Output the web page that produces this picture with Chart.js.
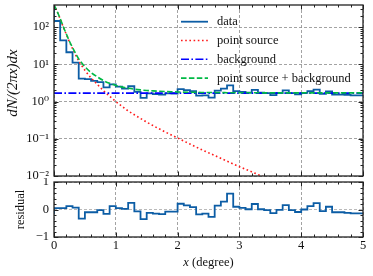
<!DOCTYPE html>
<html>
<head>
<meta charset="utf-8">
<script src="https://cdn.jsdelivr.net/npm/chart.js@4.4.1/dist/chart.umd.min.js"></script>
<style>
  html, body { margin: 0; padding: 0; background: #fff; }
  #wrap { position: relative; width: 373px; height: 276px; }
  #top { position: absolute; left: 0; top: 0; }
  #res { position: absolute; left: 0; top: 178px; }
</style>
</head>
<body>
<div id="wrap">
  <canvas id="top" width="373" height="180"></canvas>
  <canvas id="res" width="373" height="98"></canvas>
</div>
<script>
// histogram bins of width 0.1 degree, from 0 to 5
const BIN = 0.1;
const counts = [350, 145, 44, 21, 11, 4.1, 4.0, 3.6, 3.3, 2.4,
                2.9, 2.5, 2.22, 2.57, 1.81, 1.25, 1.66, 1.57, 1.53, 1.65,
                1.64, 2.15, 2.03, 1.9, 1.43, 1.46, 1.27, 1.95, 2.22, 2.72,
                1.89, 1.82, 1.73, 2.05, 1.73, 1.67, 1.49, 1.69, 1.98, 1.67,
                1.55, 1.7, 1.91, 2.09, 1.6, 1.87, 1.53, 1.53, 1.5, 1.46];
const residuals = [-0.15, 0.05, 0.05, 0.12, 0.07, -0.33, -0.1, -0.1, -0.02, -0.16,
                   0.12, 0.05, 0.02, 0.24, -0.07, -0.35, -0.12, -0.15, -0.17, -0.08,
                   -0.08, 0.21, 0.15, 0.09, -0.18, -0.15, -0.27, 0.14, 0.29, 0.58,
                   0.1, 0.06, 0.01, 0.2, 0.01, -0.02, -0.13, -0.01, 0.16, -0.02,
                   -0.09, 0, 0.12, 0.23, -0.06, 0.1, -0.1, -0.1, -0.12, -0.14];

// point source profile
const psX = [0, 0.05, 0.1, 0.15, 0.2, 0.25, 0.3, 0.35, 0.4, 0.45, 0.5, 0.6, 0.7, 0.8, 0.9,
             1.0, 1.1, 1.2, 1.3, 1.4, 1.5, 1.6, 1.7, 1.8, 1.9, 2.0, 2.2, 2.4, 2.6, 2.8,
             3.0, 3.2, 3.4, 3.6];
const psY = [398, 263, 166, 100, 63, 39.8, 26.3, 17.8, 12.3, 9.1, 6.9, 4.3, 2.9, 1.95, 1.38,
             1.0, 0.74, 0.56, 0.44, 0.35, 0.28, 0.226, 0.185, 0.152, 0.126, 0.105, 0.072, 0.05, 0.0355, 0.025,
             0.0178, 0.0129, 0.0093, 0.0068];

// point source + background
const modX = [0, 0.05, 0.1, 0.15, 0.2, 0.25, 0.3, 0.35, 0.4, 0.45, 0.5, 0.6, 0.7, 0.8, 0.9,
              1.0, 1.1, 1.2, 1.3, 1.4, 1.5, 1.6, 1.7, 1.8, 1.9, 2.0, 2.2, 2.4, 2.6, 2.8,
              3.0, 3.5, 4.0, 4.5, 5.0];
const modY = [400, 265, 168, 102, 64.7, 41.5, 28, 19.5, 14, 10.8, 8.6, 6.0, 4.6, 3.65, 3.08,
              2.7, 2.44, 2.26, 2.14, 2.05, 1.98, 1.926, 1.885, 1.852, 1.826, 1.805, 1.772, 1.75, 1.736, 1.725,
              1.718, 1.708, 1.704, 1.702, 1.701];

const bkgX = [0, 5];
const bkgY = [1.68, 1.68];

const xTicks = [0, 1, 2, 3, 4, 5];
const yTopTicks = [0.01, 0.1, 1, 10, 100];
const yTopLabels = ['10\u207B\u00B2', '10\u207B\u00B9', '10\u2070', '10\u00B9', '10\u00B2'];
const resTicks = [-1, 0, 1];
const resLabels = ['\u22121', '0', '1'];

const SERIF = '"Liberation Serif", "DejaVu Serif", serif';
const GRID = '#8c8c8c';
const INK = '#222';

function zip(xs, ys) {
  return xs.map((x, i) => ({x: x, y: ys[i]}));
}

// points for a stepped line: left edge of each bin, plus the right edge of the last one
function stepPoints(vals) {
  let pts = vals.map((v, i) => ({x: +(i * BIN).toFixed(2), y: v}));
  pts.push({x: +(vals.length * BIN).toFixed(2), y: vals[vals.length - 1]});
  return pts;
}

// labels may overhang the plot edges, don't let them shrink the plot
function noOverhang(s) {
  s.paddingTop = 0;
  s.paddingBottom = 0;
  s.paddingLeft = 0;
  s.paddingRight = 0;
}

let xMinor = [];
for (let i = 1; i < 25; i++) if (i % 5 != 0) xMinor.push(i * 0.2);
let logMinor = [];
for (let k = -2; k <= 2; k++)
  for (let m = 2; m <= 9; m++)
    if (m * Math.pow(10, k) < 390) logMinor.push(m * Math.pow(10, k));
let resMinor = [-0.8, -0.6, -0.4, -0.2, 0.2, 0.4, 0.6, 0.8];

// matplotlib-like frame with inward ticks on all four sides, plus the axis titles
const frameTicks = {
  id: 'frameTicks',
  afterDraw(chart, args, opts) {
    const {ctx, chartArea: a, scales} = chart;
    const sx = scales.x, sy = scales.y;
    ctx.save();
    ctx.strokeStyle = INK;
    ctx.lineWidth = 1;
    ctx.beginPath();
    const xt = (list, len) => list.forEach(v => {
      const p = Math.round(sx.getPixelForValue(v)) + 0.5;
      ctx.moveTo(p, a.top); ctx.lineTo(p, a.top + len);
      ctx.moveTo(p, a.bottom); ctx.lineTo(p, a.bottom - len);
    });
    const yt = (list, len) => list.forEach(v => {
      const p = Math.round(sy.getPixelForValue(v)) + 0.5;
      ctx.moveTo(a.left, p); ctx.lineTo(a.left + len, p);
      ctx.moveTo(a.right, p); ctx.lineTo(a.right - len, p);
    });
    xt(opts.xMajor, 4.5);
    xt(opts.xMinor, 2.5);
    yt(opts.yMajor, 4.5);
    yt(opts.yMinor, 2.5);
    ctx.stroke();
    ctx.lineWidth = 1.3;
    ctx.strokeRect(a.left, a.top, a.right - a.left, a.bottom - a.top);

    ctx.fillStyle = '#111';
    ctx.textBaseline = 'middle';
    // x title: italic x, upright unit
    if (opts.xTitle) {
      const t = opts.xTitle;
      ctx.font = 'italic ' + t.size + 'px ' + SERIF;
      const w1 = ctx.measureText('x').width;
      ctx.font = t.size + 'px ' + SERIF;
      const w2 = ctx.measureText(' (degree)').width;
      const x0 = (a.left + a.right) / 2 - (w1 + w2) / 2;
      ctx.textAlign = 'left';
      ctx.font = 'italic ' + t.size + 'px ' + SERIF;
      ctx.fillText('x', x0, t.y);
      ctx.font = t.size + 'px ' + SERIF;
      ctx.fillText(' (degree)', x0 + w1, t.y);
    }
    // rotated y title, centred a little above the middle like the original
    if (opts.yTitle) {
      ctx.translate(opts.yTitle.x, opts.yTitle.y);
      ctx.rotate(-Math.PI / 2);
      ctx.font = opts.yTitle.font;
      ctx.textAlign = 'center';
      ctx.fillText(opts.yTitle.text, 0, 0);
    }
    ctx.restore();
  }
};

// legend drawn inside the plot, with line samples
const lineLegend = {
  id: 'lineLegend',
  afterDatasetsDraw(chart, args, opts) {
    const ctx = chart.ctx;
    ctx.save();
    ctx.font = '12.5px ' + SERIF;
    ctx.textBaseline = 'middle';
    ctx.fillStyle = '#111';
    chart.data.datasets.forEach((ds, i) => {
      const y = opts.top + i * opts.rowHeight;
      ctx.strokeStyle = ds.borderColor;
      ctx.lineWidth = ds.borderWidth;
      ctx.setLineDash(ds.borderDash || []);
      ctx.beginPath();
      ctx.moveTo(opts.left, y);
      ctx.lineTo(opts.left + opts.sample, y);
      ctx.stroke();
      ctx.setLineDash([]);
      ctx.fillText(ds.label, opts.textLeft, y + 0.5);
    });
    ctx.restore();
  }
};

const xScale = {
  type: 'linear',
  min: 0,
  max: 5,
  afterBuildTicks(s) { s.ticks = xTicks.map(v => ({value: v})); },
  grid: {color: GRID, lineWidth: 0.8, drawTicks: false},
  border: {display: false, dash: [3, 2]}
};

new Chart(document.getElementById('top'), {
  type: 'line',
  data: {
    datasets: [
      {label: 'data', data: stepPoints(counts), stepped: 'after',
       borderColor: '#0C5DA5', borderWidth: 1.8, pointRadius: 0, order: 4},
      {label: 'point source', data: zip(psX, psY), cubicInterpolationMode: 'monotone',
       borderColor: '#ff1a1a', borderWidth: 1.6, borderDash: [1.6, 2.6], pointRadius: 0, order: 3},
      {label: 'background', data: zip(bkgX, bkgY),
       borderColor: '#0000ff', borderWidth: 1.6, borderDash: [8, 2.4, 1.6, 2.4], pointRadius: 0, order: 2},
      {label: 'point source + background', data: zip(modX, modY), cubicInterpolationMode: 'monotone',
       borderColor: '#00b945', borderWidth: 1.6, borderDash: [5.5, 2.4], pointRadius: 0, order: 1}
    ]
  },
  options: {
    responsive: false,
    animation: false,
    events: [],
    layout: {padding: {left: 0, right: 10, top: 5, bottom: 4}},
    plugins: {
      legend: {display: false},
      tooltip: {enabled: false},
      frameTicks: {xMajor: xTicks, xMinor: xMinor, yMajor: yTopTicks, yMinor: logMinor,
                   yTitle: {text: 'dN/(2πx)dx', x: 13, y: 83, font: 'italic 15px ' + SERIF}},
      lineLegend: {left: 181, sample: 27, textLeft: 217, top: 21.7, rowHeight: 18.8}
    },
    scales: {
      x: Object.assign({}, xScale, {
        ticks: {display: false},
        afterFit(s) { s.height = 0; noOverhang(s); }
      }),
      y: {
        type: 'logarithmic',
        min: 0.01,
        max: 390,
        afterBuildTicks(s) { s.ticks = yTopTicks.map(v => ({value: v})); },
        ticks: {
          callback: (v, i) => yTopLabels[i],
          font: {family: SERIF, size: 12.5},
          color: '#111',
          padding: 5
        },
        grid: {color: GRID, lineWidth: 0.8, drawTicks: false},
        border: {display: false, dash: [3, 2]},
        afterFit(s) { s.width = 54; noOverhang(s); }
      }
    }
  },
  plugins: [frameTicks, lineLegend]
});

new Chart(document.getElementById('res'), {
  type: 'line',
  data: {
    datasets: [
      {label: 'residual', data: stepPoints(residuals), stepped: 'after',
       borderColor: '#0C5DA5', borderWidth: 1.8, pointRadius: 0}
    ]
  },
  options: {
    responsive: false,
    animation: false,
    events: [],
    layout: {padding: {left: 0, right: 10, top: 4, bottom: 0}},
    plugins: {
      legend: {display: false},
      tooltip: {enabled: false},
      frameTicks: {xMajor: xTicks, xMinor: xMinor, yMajor: resTicks, yMinor: resMinor,
                   xTitle: {size: 12.5, y: 85}}
    },
    scales: {
      x: Object.assign({}, xScale, {
        ticks: {font: {family: SERIF, size: 12.5}, color: '#111', padding: 1, maxRotation: 0},
        afterFit(s) { s.height = 39; noOverhang(s); }
      }),
      y: {
        type: 'linear',
        min: -1,
        max: 1,
        afterBuildTicks(s) { s.ticks = resTicks.map(v => ({value: v})); },
        ticks: {
          callback: (v, i) => resLabels[i],
          font: {family: SERIF, size: 12.5},
          color: '#111',
          padding: 5
        },
        grid: {color: '#a8a8a8', lineWidth: 0.8, drawTicks: false},
        border: {display: false, dash: [3, 2]},
        title: {
          display: true,
          text: 'residual',
          font: {family: SERIF, size: 12.5},
          color: '#111',
          padding: {top: 13, bottom: 0}
        },
        afterFit(s) { s.width = 54; noOverhang(s); }
      }
    }
  },
  plugins: [frameTicks]
});
</script>
</body>
</html>
